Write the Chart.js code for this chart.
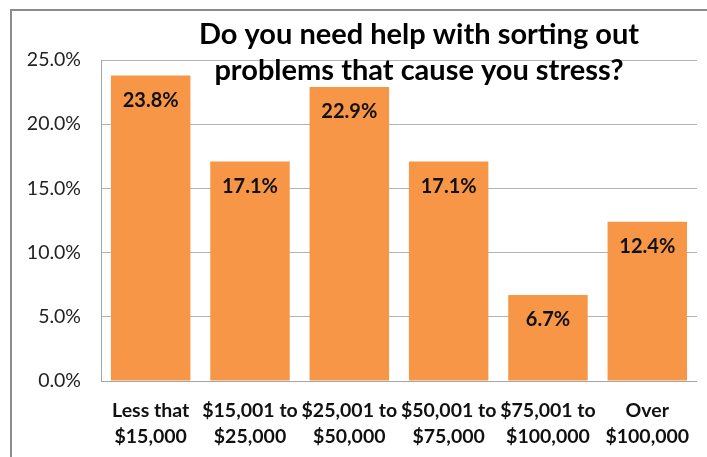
<!DOCTYPE html>
<html>
<head>
<meta charset="utf-8">
<script src="https://cdn.jsdelivr.net/npm/chart.js@4/dist/chart.umd.min.js"></script>
<style>
  html, body { margin: 0; padding: 0; background: #fff; overflow: hidden; }
  #wrap { position: relative; width: 707px; height: 457px; }
  #frame { position: absolute; left: 10px; top: 9px; width: 720px; height: 480px;
           border: 2px solid #8c8c8c; box-sizing: border-box; }
  canvas { position: absolute; left: 0; top: 0; }
</style>
</head>
<body>
<div id="wrap">
  <div id="frame"></div>
  <canvas id="chart" width="707" height="457"></canvas>
</div>
<script>
// Income brackets and share of respondents answering "yes"
const categories = [
  ['Less that', '$15,000'],
  ['$15,001 to', '$25,000'],
  ['$25,001 to', '$50,000'],
  ['$50,001 to', '$75,000'],
  ['$75,001 to', '$100,000'],
  ['Over', '$100,000']
];
const shares = [23.8, 17.1, 22.9, 17.1, 6.7, 12.4];
const yTicks = [0, 5, 10, 15, 20, 25];
const titleLines = ['Do you need help with sorting out', 'problems that cause you stress?'];

const FONT = 'Lato, "Open Sans", sans-serif';

// Value labels drawn inside the top of each bar
const barLabels = {
  id: 'barLabels',
  afterDatasetsDraw(chart) {
    const ctx = chart.ctx;
    const meta = chart.getDatasetMeta(0);
    ctx.save();
    ctx.font = 'bold 20px ' + FONT;
    ctx.fillStyle = '#111';
    ctx.textAlign = 'center';
    ctx.textBaseline = 'middle';
    meta.data.forEach((bar, i) => {
      ctx.fillText(shares[i].toFixed(1) + '%', bar.x, bar.y + 25);
    });
    ctx.restore();
  }
};

// Two-line heading laid over the top of the plot
const heading = {
  id: 'heading',
  afterDraw(chart) {
    const ctx = chart.ctx;
    ctx.save();
    ctx.font = 'bold 29px ' + FONT;
    ctx.fillStyle = '#000';
    ctx.textAlign = 'center';
    ctx.textBaseline = 'alphabetic';
    ctx.fillText(titleLines[0], 419, 44);
    ctx.fillText(titleLines[1], 419, 80);
    ctx.restore();
  }
};

new Chart(document.getElementById('chart'), {
  type: 'bar',
  data: {
    labels: categories,
    datasets: [{
      data: shares,
      backgroundColor: '#F79646',
      borderWidth: 0,
      barPercentage: 0.8,
      categoryPercentage: 1.0
    }]
  },
  options: {
    responsive: false,
    animation: false,
    layout: { padding: { left: 0, right: 10, top: 60, bottom: 0 } },
    plugins: {
      legend: { display: false },
      title: { display: false },
      tooltip: { enabled: false }
    },
    scales: {
      x: {
        grid: { display: false, drawTicks: false },
        border: { display: true, color: '#a6a6a6', width: 1 },
        ticks: {
          color: '#111',
          font: { family: FONT, size: 19.5, weight: 'bold', lineHeight: '26px' },
          padding: 17,
          maxRotation: 0,
          autoSkip: false
        },
        afterFit(scale) { scale.height = 76; }
      },
      y: {
        min: 0,
        max: 25,
        afterBuildTicks(scale) { scale.ticks = yTicks.map(v => ({ value: v })); },
        grid: { color: '#b3b3b3', lineWidth: 1, drawTicks: false },
        border: { display: true, color: '#a6a6a6', width: 1 },
        ticks: {
          color: '#222',
          font: { family: FONT, size: 19.5 },
          padding: 20,
          callback: v => v.toFixed(1) + '%'
        },
        afterFit(scale) { scale.width = 101; }
      }
    }
  },
  plugins: [barLabels, heading]
});
</script>
</body>
</html>
